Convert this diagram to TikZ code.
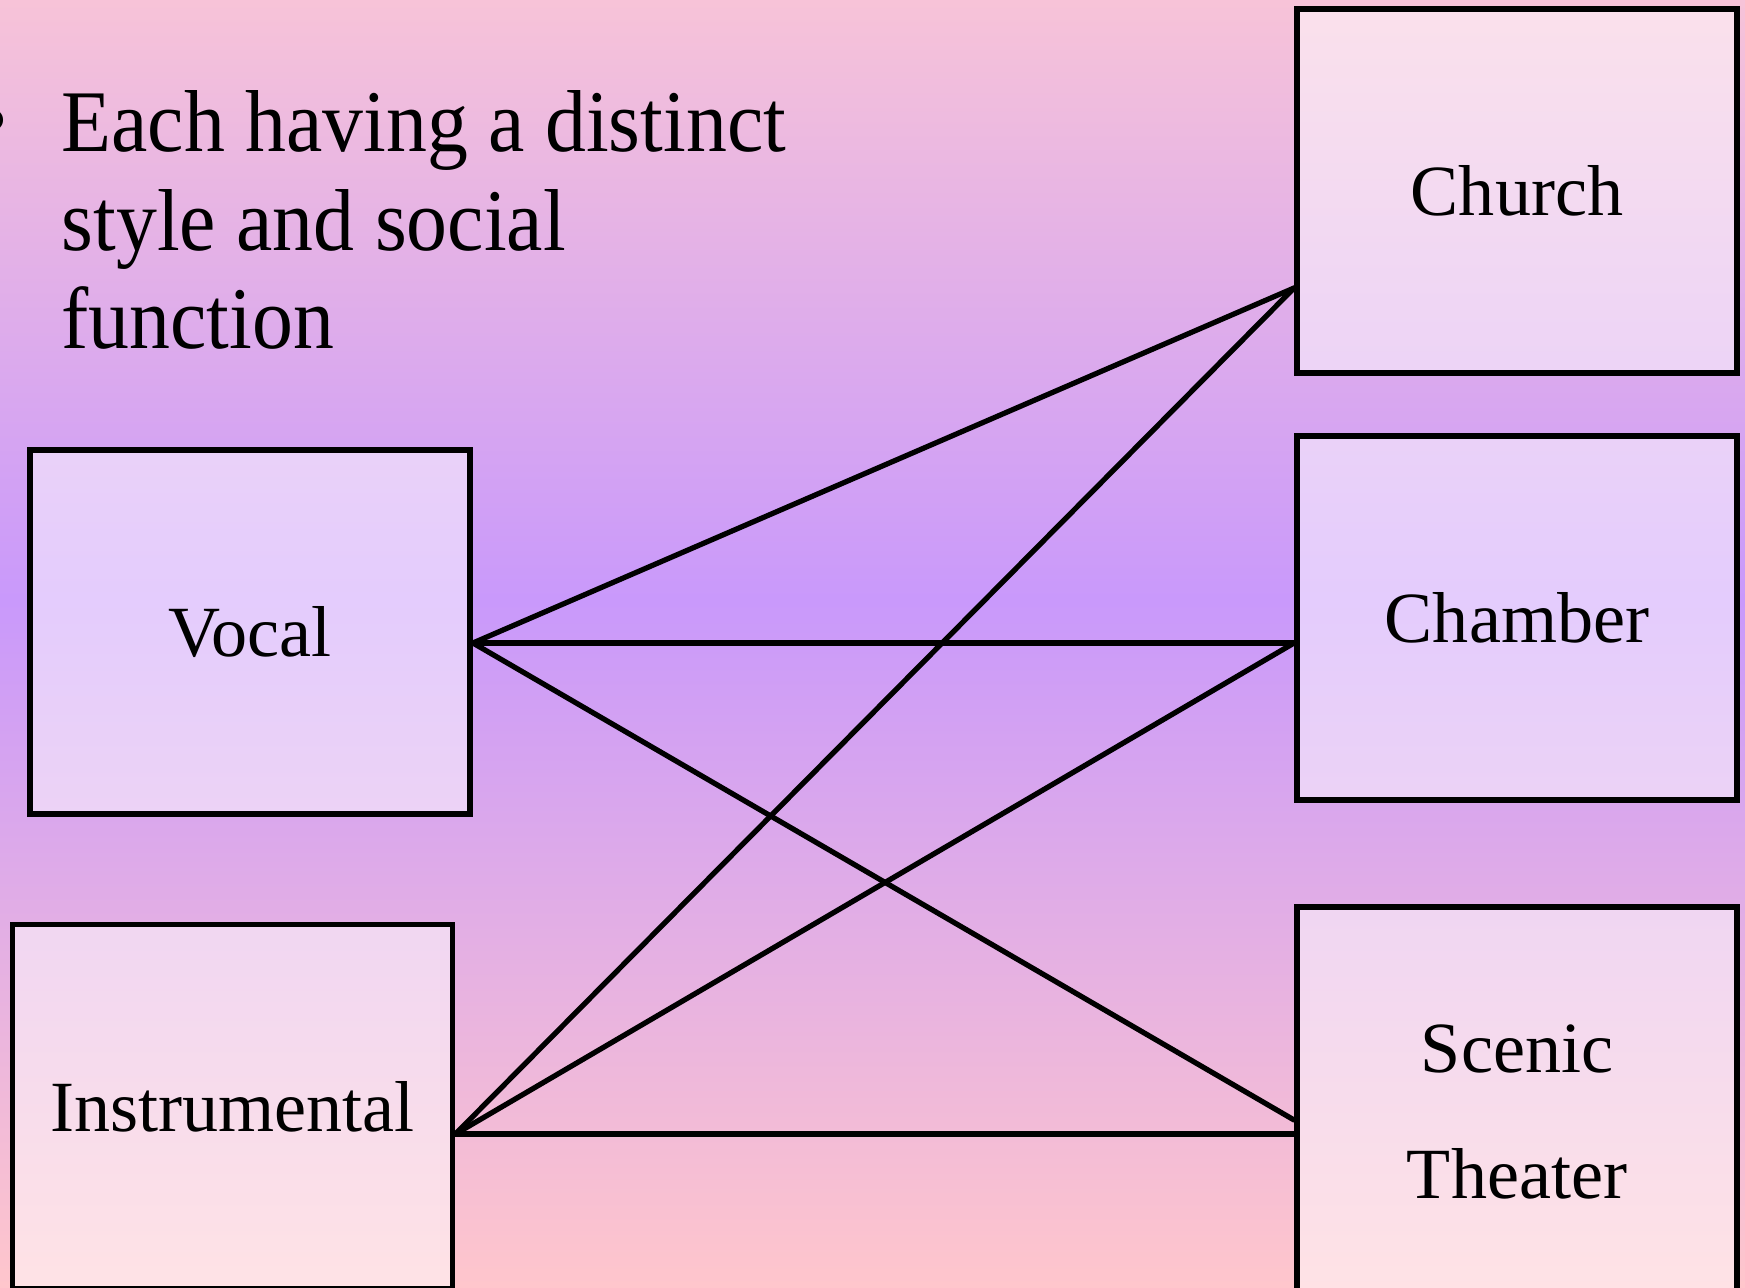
\documentclass[tikz,border=0pt]{standalone}
\usepackage{fontspec}
\setmainfont{Liberation Serif}
\newfontfamily\introfont{Liberation Serif}[FakeStretch=0.93]
\usetikzlibrary{calc}
\definecolor{bgTop}{HTML}{F7C3D8}
\definecolor{bgMid}{HTML}{C999FB}
\definecolor{bgBottom}{HTML}{FFC6CC}
\pgfdeclareverticalshading{slideBg}{100bp}{color(0bp)=(bgBottom); color(25bp)=(bgBottom); color(51.7bp)=(bgMid); color(75bp)=(bgTop); color(100bp)=(bgTop)}
\tikzset{
	genre/.style={draw,line width=1.6pt,fill=white,fill opacity=0.5,text opacity=1,
		minimum width=4.4cm,minimum height=3.64cm,inner sep=0pt,align=center,
		font=\fontsize{20.5}{36}\selectfont},
	link/.style={line width=1.5pt,line cap=round}
}

\begin{document}
\begin{tikzpicture}[x=0.01cm,y=-0.01cm]
		\useasboundingbox (0,0) rectangle (1745,1288);
		\clip (0,0) rectangle (1745,1288);
		% background
		\shade[shading=slideBg] (0,0) rectangle (1745,1288);
		% bullet
		\node[anchor=base,inner sep=0pt,font=\introfont\fontsize{25}{28}\selectfont] (dot) at (-6,150) {•};
		\node[anchor=north west,inner sep=0pt,align=left,font=\introfont\fontsize{25}{28}\selectfont] (intro) at (61,90)
			{Each having a distinct\\style and social\\function};
		% boxes
		\node[genre] (vocal) at (250,632) {Vocal};
		\node[genre] (instr) at (232.5,1106.5) {Instrumental};
		\node[genre] (church) at (1517,191) {Church};
		\node[genre] (chamber) at (1517,618) {Chamber};
		\node[genre,minimum height=4.1cm] (scenic) at (1517,1112) {Scenic\\Theater};
		% end points
		\coordinate (vocalOut) at ($(vocal.east)+(0,11)$);
		\coordinate (instrOut) at ($(instr.east)+(0,27.5)$);
		\coordinate (churchIn) at ($(church.west)+(0,97)$);
		\coordinate (chamberIn) at ($(chamber.west)+(0,25)$);
		\coordinate (scenicUp) at ($(scenic.west)+(0,8)$);
		\coordinate (scenicLow) at ($(scenic.west)+(0,22)$);
		% lines
		\draw[link] (vocalOut) -- (churchIn);
		\draw[link] (vocalOut) -- (chamberIn);
		\draw[link] (vocalOut) -- (scenicUp);
		\draw[link] (instrOut) -- (churchIn);
		\draw[link] (instrOut) -- (chamberIn);
		\draw[link] (instrOut) -- (scenicLow);
\end{tikzpicture}
\end{document}
